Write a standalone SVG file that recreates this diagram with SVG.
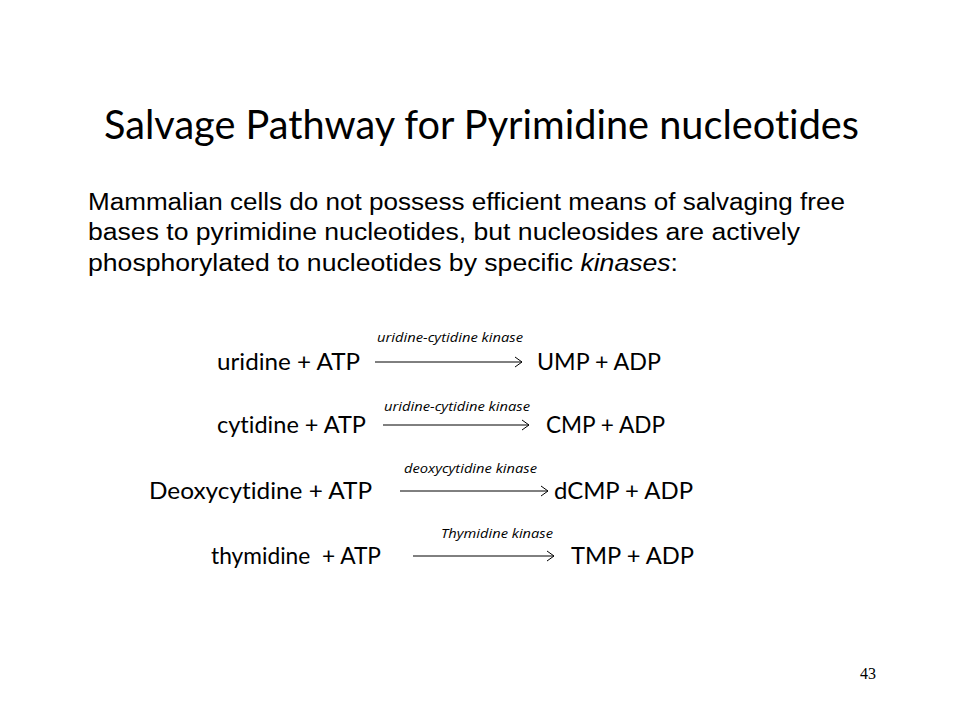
<svg xmlns="http://www.w3.org/2000/svg" width="960" height="720" viewBox="0 0 960 720">
<style>
text{font-variant-ligatures:none;font-feature-settings:"liga" 0,"clig" 0}
.title{font-family:Lato,"Open Sans","Liberation Sans",sans-serif;font-size:40px;fill:#000}
.para{font-family:"Liberation Sans",Arial,sans-serif;font-size:23px;fill:#000}
.rx{font-family:Lato,"Open Sans","Liberation Sans",sans-serif;font-size:23px;fill:#000}
.enz{font-family:"Open Sans",Lato,"Liberation Sans",sans-serif;font-size:12px;font-style:italic;fill:#000}
.pg{font-family:"Liberation Serif","Times New Roman",serif;font-size:16px;fill:#000}
.arr{stroke:#000;stroke-width:1;fill:none;marker-end:url(#head)}
</style>
<defs>
<marker id="head" markerWidth="10" markerHeight="12" refX="8" refY="6" orient="auto" markerUnits="userSpaceOnUse">
<path d="M1,1 L8,6 L1,11" fill="none" stroke="#000" stroke-width="1"/>
</marker>
</defs>
<rect width="960" height="720" fill="#fff"/>
<g id="title">
<text class="title" x="104" y="139" textLength="755" lengthAdjust="spacingAndGlyphs">Salvage Pathway for Pyrimidine nucleotides</text>
</g>
<g id="intro">
<text class="para" x="88" y="210" textLength="757" lengthAdjust="spacingAndGlyphs">Mammalian cells do not possess efficient means of salvaging free</text>
<text class="para" x="88" y="240" textLength="712" lengthAdjust="spacingAndGlyphs">bases to pyrimidine nucleotides, but nucleosides are actively</text>
<text class="para" x="88" y="271" textLength="590" lengthAdjust="spacingAndGlyphs">phosphorylated to nucleotides by specific <tspan font-style="italic">kinases</tspan>:</text>
</g>
<g id="connectors">
<line class="arr" x1="375" y1="362" x2="522" y2="362"/>
<line class="arr" x1="383" y1="425" x2="529" y2="425"/>
<line class="arr" x1="400" y1="491" x2="548" y2="491"/>
<line class="arr" x1="413" y1="556" x2="554" y2="556"/>
</g>
<g id="reaction-uridine">
<text class="rx" x="217" y="370" textLength="143" lengthAdjust="spacingAndGlyphs">uridine + ATP</text>
<text class="enz" x="377" y="342" textLength="146" lengthAdjust="spacingAndGlyphs">uridine-cytidine kinase</text>
<text class="rx" x="537" y="370" textLength="124" lengthAdjust="spacingAndGlyphs">UMP + ADP</text>
</g>
<g id="reaction-cytidine">
<text class="rx" x="217" y="433" textLength="149" lengthAdjust="spacingAndGlyphs">cytidine + ATP</text>
<text class="enz" x="384" y="411" textLength="146" lengthAdjust="spacingAndGlyphs">uridine-cytidine kinase</text>
<text class="rx" x="546" y="433" textLength="119" lengthAdjust="spacingAndGlyphs">CMP + ADP</text>
</g>
<g id="reaction-deoxycytidine">
<text class="rx" x="149" y="499" textLength="223" lengthAdjust="spacingAndGlyphs">Deoxycytidine + ATP</text>
<text class="enz" x="404" y="473" textLength="133" lengthAdjust="spacingAndGlyphs">deoxycytidine kinase</text>
<text class="rx" x="554" y="499" textLength="139" lengthAdjust="spacingAndGlyphs">dCMP + ADP</text>
</g>
<g id="reaction-thymidine">
<text class="rx" x="211" y="564" textLength="170" lengthAdjust="spacingAndGlyphs" xml:space="preserve">thymidine  + ATP</text>
<text class="enz" x="441" y="538" textLength="112" lengthAdjust="spacingAndGlyphs">Thymidine kinase</text>
<text class="rx" x="571" y="564" textLength="123" lengthAdjust="spacingAndGlyphs">TMP + ADP</text>
</g>
<g id="page-number">
<text class="pg" x="860" y="679">43</text>
</g>
</svg>
